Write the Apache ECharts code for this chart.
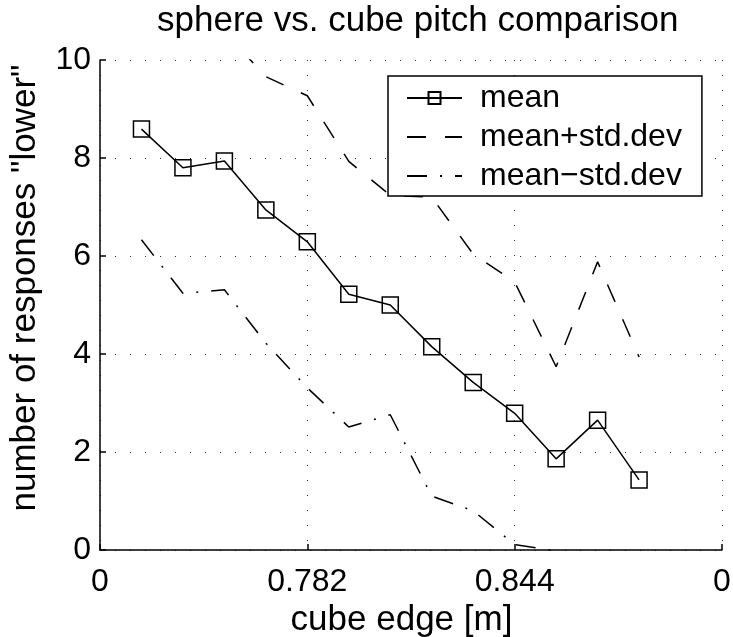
<!DOCTYPE html>
<html>
<head>
<meta charset="utf-8">
<script src="https://cdn.jsdelivr.net/npm/echarts@6/dist/echarts.min.js"></script>
<style>html,body{margin:0;padding:0;background:#fff}#c{width:733px;height:637px}</style>
</head>
<body>
<div id="c"></div>
<script>
const xPositions = [1, 2, 3, 4, 5, 6, 7, 8, 9, 10, 11, 12, 13];
const meanValues = [8.59, 7.80, 7.94, 6.94, 6.29, 5.22, 5.00, 4.15, 3.42, 2.79, 1.86, 2.65, 1.43];
const upperValues = [10.85, 10.36, 10.57, 9.66, 9.27, 7.93, 7.24, 7.20, 6.04, 5.47, 3.74, 5.88, 3.94];
const lowerValues = [6.33, 5.24, 5.31, 4.22, 3.31, 2.51, 2.76, 1.10, 0.80, 0.11, -0.02, -0.58, -1.08];
const xTickLabels = ['0', '0.782', '0.844', '0'];
const yTickLabels = ['0', '2', '4', '6', '8', '10'];
const seriesNames = ['mean', 'mean+std.dev', 'mean\u2212std.dev'];

const FONT = "'Liberation Sans', Arial, Helvetica, sans-serif";
const pairs = vals => xPositions.map((x, i) => [x, vals[i]]);

const chart = echarts.init(document.getElementById('c'), null, {renderer: 'canvas'});
chart.setOption({
  animation: false,
  backgroundColor: '#fff',
  title: {
    text: 'sphere vs. cube pitch comparison',
    left: 157, top: 4, padding: 0,
    textStyle: {fontFamily: FONT, fontSize: 35, fontWeight: 'normal', color: '#000'}
  },
  legend: {
    orient: 'vertical',
    left: 388, top: 76,
    padding: [6, 20, 4, 18],
    backgroundColor: '#fff',
    borderColor: '#000', borderWidth: 1.5,
    itemWidth: 55, itemHeight: 15, itemGap: 7,
    data: [
      {name: seriesNames[0]},
      {name: seriesNames[1], itemStyle: {opacity: 0}},
      {name: seriesNames[2], itemStyle: {opacity: 0}}
    ],
    textStyle: {fontFamily: FONT, fontSize: 32, color: '#000', padding: [0, 0, 0, 13]}
  },
  grid: {left: 100, right: 11, top: 60, bottom: 87, containLabel: false, outerBoundsMode: 'none'},
  xAxis: {
    type: 'value', min: 0, max: 15, interval: 5,
    name: 'cube edge [m]', nameLocation: 'middle', nameGap: 53,
    nameTextStyle: {fontFamily: FONT, fontSize: 35, color: '#000', padding: [0, 19, 0, 0]},
    axisLine: {show: true, onZero: false, lineStyle: {color: '#000', width: 1.5}},
    axisTick: {show: true, inside: true, length: 6, lineStyle: {color: '#000', width: 1.5}},
    axisLabel: {fontFamily: FONT, fontSize: 32, color: '#000', margin: 16,
      formatter: v => xTickLabels[Math.round(v / 5)]},
    splitLine: {show: true, lineStyle: {color: '#333', width: 1, type: [1, 14]}}
  },
  yAxis: {
    type: 'value', min: 0, max: 10, interval: 2,
    name: 'number of responses "lower"', nameLocation: 'middle', nameGap: 57,
    nameTextStyle: {fontFamily: FONT, fontSize: 35, color: '#000', padding: [0, 0, 0, 34]},
    axisLine: {show: true, lineStyle: {color: '#000', width: 1.5}},
    axisTick: {show: true, inside: true, length: 6, lineStyle: {color: '#000', width: 1.5}},
    axisLabel: {fontFamily: FONT, fontSize: 32, color: '#000', margin: 9,
      formatter: v => yTickLabels[Math.round(v / 2)]},
    splitLine: {show: true, lineStyle: {color: '#333', width: 1, type: [1, 14]}}
  },
  series: [
    {
      name: seriesNames[0], type: 'line', data: pairs(meanValues),
      symbol: 'rect', symbolSize: 16, showAllSymbol: true,
      lineStyle: {color: '#000', width: 1.5},
      itemStyle: {color: 'rgba(255,255,255,0)', borderColor: '#000', borderWidth: 1.5},
      z: 3
    },
    {
      name: seriesNames[1], type: 'line', data: pairs(upperValues),
      symbol: 'none',
      lineStyle: {color: '#000', width: 1.5, type: [19, 19]},
      itemStyle: {color: '#000'}
    },
    {
      name: seriesNames[2], type: 'line', data: pairs(lowerValues),
      symbol: 'none',
      lineStyle: {color: '#000', width: 1.5, type: [20, 13, 2, 13]},
      itemStyle: {color: '#000'}
    }
  ]
});
</script>
</body>
</html>
